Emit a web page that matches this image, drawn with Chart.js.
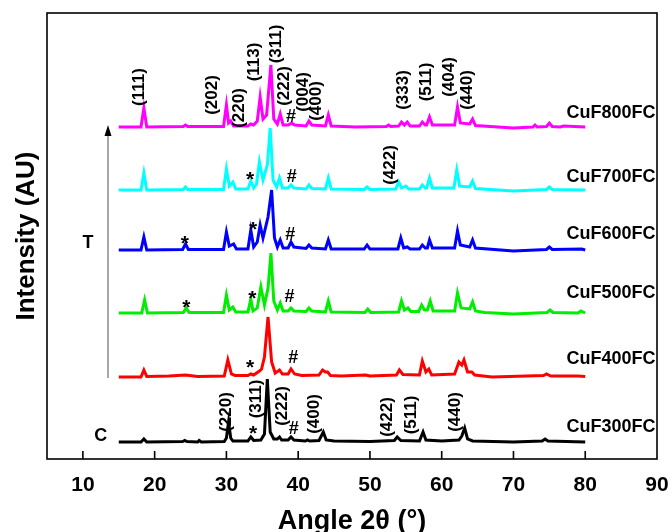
<!DOCTYPE html>
<html>
<head>
<meta charset="utf-8">
<script src="https://cdn.jsdelivr.net/npm/chart.js@4.4.1/dist/chart.umd.min.js"></script>
<style>
  html, body { margin: 0; padding: 0; background: #fff; }
  #wrap { width: 672px; height: 532px; }
</style>
</head>
<body>
<div id="wrap"><canvas id="xrd" width="672" height="532"></canvas></div>
<script>
// patterns: [2theta, intensity above the pattern's own baseline]
const cuf800 = [[15,0],[18.1,0],[18.5,19],[18.9,0],[24,0.5],[24.3,2],[24.6,0.5],[29.6,0.5],[30.0,22],[30.3,4],[30.6,6],[31.0,1],
  [33.0,1],[33.4,3],[33.8,2],[34.3,6],[34.7,30],[35.1,8],[35.6,12],[36.2,62],[36.6,8],[37.1,3],[37.5,13],[37.9,2],[38.6,2],[39.1,4],[39.5,2],
  [41.1,1],[41.5,6],[41.9,2],[43.8,1],[44.2,12],[44.6,1],[48,0],[52.3,0.5],[52.6,2],[52.9,0.5],[54.0,1],[54.4,5],[54.8,2],[55.2,5],[55.6,1],
  [56.9,1],[57.3,5],[57.7,2],[57.9,2],[58.3,10],[58.7,2],[61.8,2],[62.2,20],[62.6,4],[63.9,3],[64.3,8],[64.7,1.5],[70,-1],[72.7,0],[73.0,2],
  [73.3,0],[74.6,0.5],[75.0,4],[75.4,0.5],[76.5,0],[77,1],[80,0]];
const cuf700 = [[15,0],[18.1,0],[18.5,17],[18.9,0],[24.0,0.5],[24.3,3],[24.6,0.5],[29.6,0.5],[30.0,21],[30.4,4],[30.9,8],[31.3,1],
  [33.0,1],[33.4,9],[33.8,2],[34.2,6],[34.6,28],[35.1,10],[35.7,25],[36.1,62],[36.5,10],[37.0,3],[37.4,12],[37.8,2],[38.6,2],[39.0,5],[39.4,2],
  [41.1,1],[41.5,5],[41.9,1.5],[43.8,1],[44.2,12],[44.6,1],[49.2,0.5],[49.6,3],[50.0,0.5],[53.6,1],[54.0,8],[54.4,2],[55.0,4],[55.4,1],
  [56.9,1],[57.3,5],[57.7,2],[57.9,2],[58.3,12],[58.7,2],[61.7,2],[62.1,20],[62.5,4],[63.9,3],[64.3,9],[64.7,1.5],[70,-1],[74.6,0.5],
  [75.0,3],[75.4,0.5],[80,0]];
const cuf600 = [[15,0],[18.1,0],[18.5,13],[18.9,0],[23.9,0.5],[24.3,6],[24.7,0.5],[29.6,0.5],[30.0,18],[30.4,4],[31.0,6],[31.4,1],
  [33.0,1],[33.4,20],[33.8,3],[34.3,8],[34.7,25],[35.1,12],[35.8,33],[36.3,60],[36.7,12],[37.1,3],[37.5,10],[37.9,2],[38.6,2],[39.0,8],[39.4,3],
  [41.1,1.5],[41.5,5],[41.9,2],[43.8,1],[44.2,10],[44.6,1],[49.2,1],[49.6,5],[50.0,1],[53.9,1],[54.3,12],[54.7,2],[55.2,3],[55.6,1],
  [56.9,1],[57.3,5],[57.7,2],[58.0,2],[58.3,10],[58.7,2],[61.8,2],[62.2,19],[62.6,5],[63.9,3],[64.3,10],[64.7,2],[70,-1],[74.6,0.5],
  [75.0,3],[75.4,0.5],[79.5,1],[80,0]];
const cuf500 = [[15,0],[18.2,0],[18.6,13],[19.0,0],[24.0,0.5],[24.4,5],[24.8,0.5],[29.6,0.5],[30.0,18],[30.4,3],[30.9,6],[31.3,1],
  [33.0,1],[33.4,14],[33.7,2],[34.3,5],[34.8,26],[35.3,8],[35.8,25],[36.2,60],[36.6,12],[37.1,3],[37.5,10],[37.9,2],[38.6,2],[39.0,5],[39.4,2],
  [41.1,1.5],[41.5,5],[41.9,2],[43.8,1],[44.2,12],[44.6,1],[49.3,0.5],[49.7,4],[50.1,0.5],[54.0,1],[54.4,12],[54.8,3],[55.3,5],[55.7,1.5],
  [56.8,1.5],[57.2,8],[57.6,3],[58.0,3],[58.4,12],[58.8,2],[61.8,2],[62.2,20],[62.7,5],[63.9,4],[64.3,11],[64.7,2],[66,0.5],[70,-1],
  [74.7,0.5],[75.1,3],[75.5,0.5],[79.0,0],[79.4,2],[80,0]];
const cuf400 = [[15,0],[18.1,0],[18.5,7],[18.9,0.5],[22,1],[24.3,2],[26,0.5],[29.7,1],[30.2,17],[30.7,3],[31.2,1.5],[33.0,1.5],[33.4,3],
  [33.8,2],[34.6,6],[34.9,8],[35.3,20],[35.8,60],[36.3,15],[36.8,4],[37.4,7],[37.8,3],[38.6,3],[39.0,8],[39.5,3],[40.5,1.5],[42.9,2],[43.4,7],
  [43.8,5],[44.1,5],[44.5,1.5],[46,1],[49.4,2],[50,1],[53.7,2],[54.1,7],[54.6,2.5],[56.9,2],[57.3,16],[57.8,5],[58.2,8],[58.6,2],[61.8,3],
  [62.4,15],[62.8,12],[63.1,17],[63.6,5],[64.2,5],[64.6,2],[67,0],[74.2,1.5],[74.6,3],[75.2,1],[79,1],[80,0.5]];
const cuf300 = [[15,0],[18.1,0],[18.5,3],[18.9,0],[23.9,0.5],[24.2,1.5],[24.5,0.5],[26,0],[26.2,1.5],[26.5,0],[29.7,0.5],[30.0,4],
  [30.3,20],[30.6,4],[30.9,1],[33.0,1],[33.4,5],[33.8,1.5],[34.8,2],[35.3,8],[35.7,63],[36.1,10],[36.6,3],[37.1,3],[37.4,5],[37.7,2],
  [38.6,2],[39.0,5],[39.4,2],[41.0,1],[41.3,2],[41.6,1],[42.9,1.5],[43.5,10],[43.9,2],[45,1],[50,0.5],[53.4,1.5],[53.8,5],[54.3,1.5],
  [56.9,1],[57.4,10],[57.8,2],[60,1],[62.4,2],[62.8,6],[63.2,14],[63.6,3],[64.3,1],[70,0],[74.0,1],[74.4,3],[74.8,1],[80,0]];

const seriesNames = ['CuF800FC', 'CuF700FC', 'CuF600FC', 'CuF500FC', 'CuF400FC', 'CuF300FC'];
const seriesData = [cuf800, cuf700, cuf600, cuf500, cuf400, cuf300];
const seriesOffsets = [332, 269, 209, 146, 82, 17];
const seriesColors = ['#ff00ff', '#00ffff', '#0000ff', '#00ee00', '#ff0000', '#000000'];
const xTicks = [10, 20, 30, 40, 50, 60, 70, 80, 90];

// (hkl) labels: text, 2theta, height on the stacked axis
const hklLabels = [
  ['(111)', 17.8, 372], ['(202)', 28.1, 364], ['(220)', 31.8, 351], ['(113)', 33.9, 397], ['(311)', 36.9, 415],
  ['(222)', 38.1, 373], ['(004)', 40.7, 367], ['(400)', 42.5, 358], ['(333)', 54.7, 369], ['(511)', 57.8, 377],
  ['(404)', 61.0, 382], ['(440)', 63.5, 369], ['(422)', 52.9, 294],
  ['(220)', 30.0, 47], ['(311)', 34.2, 60], ['(222)', 37.8, 53], ['(400)', 42.2, 45], ['(422)', 52.4, 42],
  ['(511)', 55.8, 44], ['(440)', 61.9, 47]
];
// impurity markers
const markers = [
  ['#', 39.0, 342], ['*', 33.3, 283], ['#', 39.1, 282], ['*', 24.2, 219], ['*', 33.7, 233], ['#', 38.9, 224],
  ['*', 24.4, 155], ['*', 33.6, 164], ['#', 38.8, 162], ['*', 33.3, 95], ['#', 39.3, 101], ['*', 33.7, 29], ['#', 39.4, 30]
];
const nameY = [346, 282, 225, 166, 100, 32];

const datasets = seriesData.map((pts, i) => ({
  label: seriesNames[i],
  data: pts.map(p => ({ x: p[0], y: p[1] + seriesOffsets[i] })),
  borderColor: seriesColors[i],
  borderWidth: 3,
  pointRadius: 0,
  tension: 0,
  fill: false
}));

const decor = {
  id: 'decor',
  afterDatasetsDraw(chart) {
    const { ctx, chartArea: a, scales: { x, y } } = chart;
    ctx.save();
    // frame and inward ticks
    ctx.strokeStyle = '#000';
    ctx.lineWidth = 1.6;
    ctx.strokeRect(a.left, a.top, a.right - a.left, a.bottom - a.top);
    ctx.beginPath();
    xTicks.slice(0, -1).forEach(v => {
      const px = x.getPixelForValue(v);
      ctx.moveTo(px, a.bottom);
      ctx.lineTo(px, a.bottom - 8);
    });
    ctx.stroke();

    ctx.fillStyle = '#000';
    ctx.font = 'bold 17px "Liberation Sans", Arial, sans-serif';
    ctx.textAlign = 'center';
    ctx.textBaseline = 'middle';
    hklLabels.forEach(([t, vx, vy]) => {
      ctx.save();
      ctx.translate(x.getPixelForValue(vx), y.getPixelForValue(vy));
      ctx.rotate(-Math.PI / 2);
      ctx.fillText(t, 0, 0);
      ctx.restore();
    });
    markers.forEach(([t, vx, vy]) => {
      ctx.font = (t === '*' ? 'bold 21px' : 'bold 18px') + ' "Liberation Sans", Arial, sans-serif';
      ctx.fillText(t, x.getPixelForValue(vx), y.getPixelForValue(vy) + (t === '*' ? 4 : 0));
    });

    ctx.font = 'bold 18px "Liberation Sans", Arial, sans-serif';
    ctx.textAlign = 'right';
    seriesNames.forEach((n, i) => {
      ctx.fillText(n, x.getPixelForValue(89.8), y.getPixelForValue(nameY[i]));
    });
    ctx.textAlign = 'center';
    ctx.fillText('T', x.getPixelForValue(10.7), y.getPixelForValue(216));
    ctx.fillText('C', x.getPixelForValue(12.5), y.getPixelForValue(23));

    // temperature arrow
    const ax = x.getPixelForValue(13.5);
    const y0 = y.getPixelForValue(81), y1 = y.getPixelForValue(334);
    ctx.strokeStyle = '#777';
    ctx.lineWidth = 1.3;
    ctx.beginPath();
    ctx.moveTo(ax, y0);
    ctx.lineTo(ax, y1 + 8);
    ctx.stroke();
    ctx.beginPath();
    ctx.moveTo(ax, y1);
    ctx.lineTo(ax - 3.5, y1 + 11);
    ctx.lineTo(ax + 3.5, y1 + 11);
    ctx.closePath();
    ctx.fill();
    ctx.restore();
  }
};

new Chart(document.getElementById('xrd'), {
  type: 'line',
  data: { datasets },
  options: {
    responsive: false,
    animation: false,
    devicePixelRatio: 1,
    layout: { autoPadding: false, padding: { top: 13, right: 15, left: 0, bottom: 0 } },
    plugins: { legend: { display: false }, tooltip: { enabled: false } },
    scales: {
      x: {
        type: 'linear',
        min: 5,
        max: 90,
        afterBuildTicks: s => { s.ticks = xTicks.map(v => ({ value: v })); },
        afterFit: s => { s.height = 73; s.paddingLeft = 0; s.paddingRight = 0; },
        grid: { display: false, drawTicks: false },
        border: { display: false },
        ticks: { color: '#000', padding: 14, maxRotation: 0, font: { family: '"Liberation Sans", Arial', size: 21, weight: 'bold' } },
        title: {
          display: true, text: 'Angle 2θ (°)', color: '#000', padding: { top: 0, bottom: 0 },
          font: { family: '"Liberation Sans", Arial', size: 27, weight: 'bold', lineHeight: 0.8 }
        }
      },
      y: {
        min: 0,
        max: 446,
        afterFit: s => { s.width = 47; s.paddingTop = 0; s.paddingBottom = 0; },
        grid: { display: false, drawTicks: false },
        border: { display: false },
        ticks: { display: false },
        title: {
          display: true, text: 'Intensity (AU)', color: '#000', padding: { top: 11, bottom: 0 },
          font: { family: '"Liberation Sans", Arial', size: 26, weight: 'bold', lineHeight: 1.2 }
        }
      }
    }
  },
  plugins: [decor]
});
</script>
</body>
</html>
